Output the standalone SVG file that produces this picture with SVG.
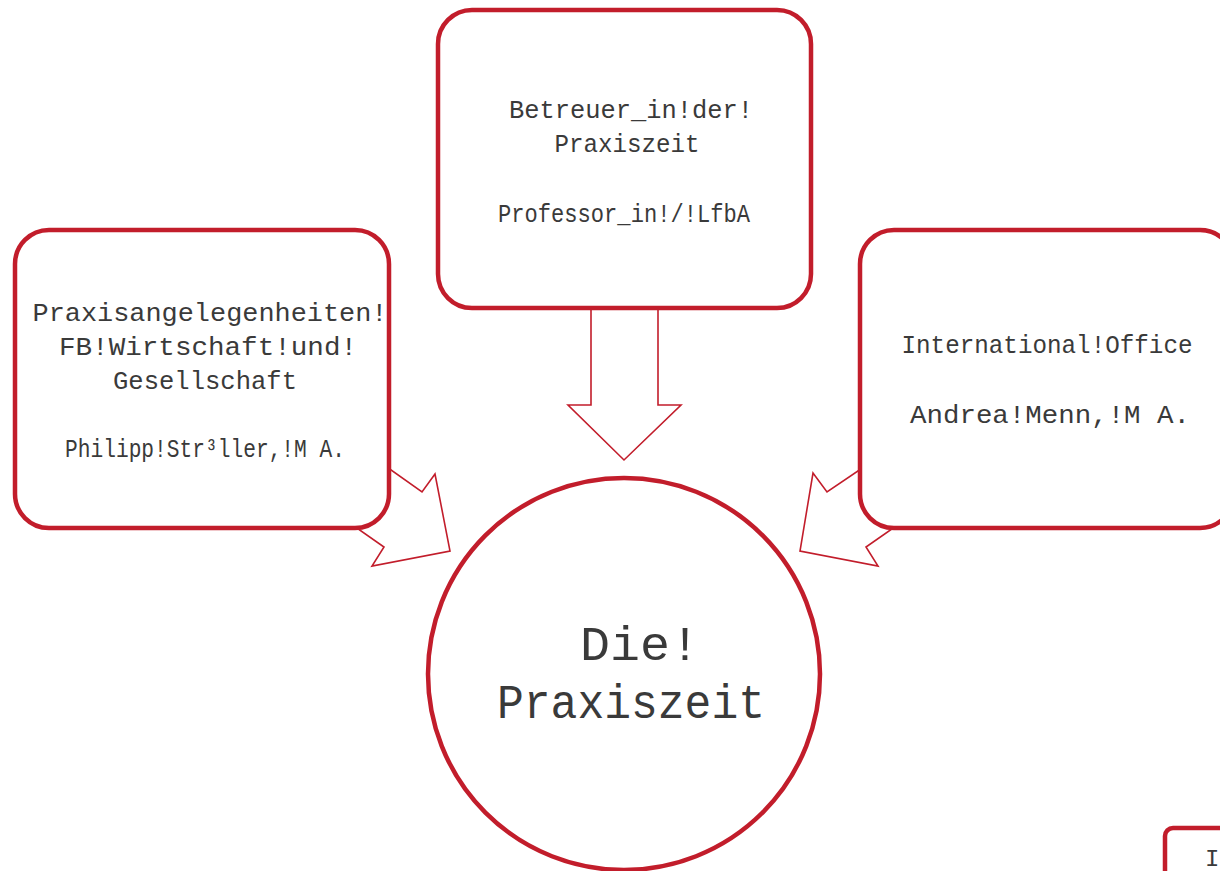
<svg xmlns="http://www.w3.org/2000/svg" width="1220" height="871" viewBox="0 0 1220 871">
<style>
.box{fill:#fff;stroke:#c21d2b;stroke-width:4.5}
.arr{fill:#fff;stroke:#c21d2b;stroke-width:1.6;stroke-linejoin:miter}
.t{font-family:"Liberation Mono","Courier New",monospace;fill:#3a3a3a;text-anchor:middle;font-size:26px}
.big{font-size:48px}
</style>
<rect width="1220" height="871" fill="#fff"/>
<g id="connectors">
<polygon class="arr" points="591,300 591,405 568,405 624,460 681,405 658,405 658,300"/>
<polygon class="arr" points="360,448 422,492 435,474 450,551 372,566 384,547 324,505"/>
<polygon class="arr" points="889,450 827,492 813,473 800,551 878,566 866,547 912,515"/>
</g>
<g id="node-betreuer">
<rect class="box" x="438" y="10" width="373" height="298" rx="34"/>
<text class="t" x="631" y="118" textLength="244" lengthAdjust="spacingAndGlyphs">Betreuer_in!der!</text>
<text class="t" x="627" y="152" textLength="145" lengthAdjust="spacingAndGlyphs">Praxiszeit</text>
<text class="t" x="624" y="222" textLength="252" lengthAdjust="spacingAndGlyphs">Professor_in!/!LfbA</text>
</g>
<g id="node-praxisangelegenheiten">
<rect class="box" x="15" y="230" width="374" height="298" rx="34"/>
<text class="t" x="210" y="321" textLength="355" lengthAdjust="spacingAndGlyphs">Praxisangelegenheiten!</text>
<text class="t" x="208" y="355" textLength="298" lengthAdjust="spacingAndGlyphs">FB!Wirtschaft!und!</text>
<text class="t" x="205" y="389" textLength="184" lengthAdjust="spacingAndGlyphs">Gesellschaft</text>
<text class="t" x="205" y="457" textLength="280" lengthAdjust="spacingAndGlyphs">Philipp!Str³ller,!M A.</text>
</g>
<g id="node-international">
<rect class="box" x="860" y="230" width="374" height="298" rx="34"/>
<text class="t" x="1047" y="353" textLength="291" lengthAdjust="spacingAndGlyphs">International!Office</text>
<text class="t" x="1050" y="423" textLength="280" lengthAdjust="spacingAndGlyphs">Andrea!Menn,!M A.</text>
</g>
<g id="node-praxiszeit">
<circle class="box" cx="624" cy="674" r="196"/>
<text class="t big" x="640" y="660" textLength="120" lengthAdjust="spacingAndGlyphs">Die!</text>
<text class="t big" x="631" y="718" textLength="268" lengthAdjust="spacingAndGlyphs">Praxiszeit</text>
</g>
<g id="node-partial">
<rect class="box" x="1165" y="828" width="120" height="120" rx="8"/>
<text class="t" x="1205" y="866" style="text-anchor:start;font-size:24px">I</text>
</g>
</svg>
